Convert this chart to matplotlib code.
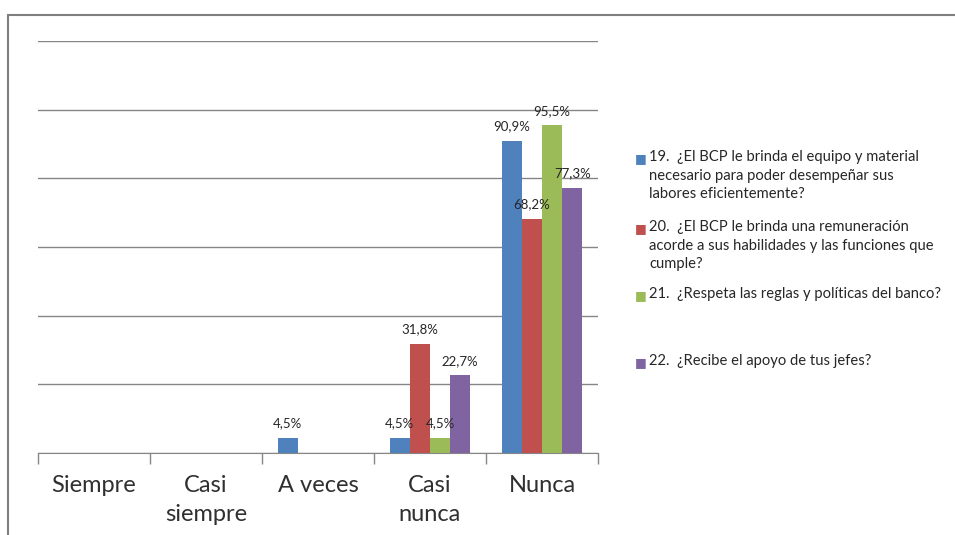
import matplotlib
matplotlib.use('Agg')
import matplotlib.pyplot as plt
from matplotlib.patches import Rectangle
import numpy as np

plt.rcParams['font.family'] = ['Lato', 'DejaVu Sans']

categories = ['Siempre', 'Casi\nsiempre', 'A veces', 'Casi\nnunca', 'Nunca']
series_names = [
    '19.  ¿El BCP le brinda el equipo y material\nnecesario para poder desempeñar sus\nlabores eficientemente?',
    '20.  ¿El BCP le brinda una remuneración\nacorde a sus habilidades y las funciones que\ncumple?',
    '21.  ¿Respeta las reglas y políticas del banco?',
    '22.  ¿Recibe el apoyo de tus jefes?',
]
q19 = [0, 0, 4.5, 4.5, 90.9]
q20 = [0, 0, 0, 31.8, 68.2]
q21 = [0, 0, 0, 4.5, 95.5]
q22 = [0, 0, 0, 22.7, 77.3]
colors = ['#4F81BD', '#C0504D', '#9BBB59', '#8064A2']

fig = plt.figure(figsize=(9.55, 5.35), dpi=100)
ax = fig.add_axes([38 / 955, 1 - 453 / 535, 560 / 955, 412 / 535])

x = np.arange(len(categories))
w = 0.18
for i, (vals, c) in enumerate(zip([q19, q20, q21, q22], colors)):
    bars = ax.bar(x + (i - 1.5) * w, vals, width=w, color=c, zorder=3)
    for b, v in zip(bars, vals):
        if v > 0:
            ax.annotate('{:.1f}%'.format(v).replace('.', ','),
                        xy=(b.get_x() + b.get_width() / 2, v), xytext=(0, 6),
                        textcoords='offset points', ha='center', va='bottom',
                        fontsize=9.5, color='#262626', zorder=4)

ax.set_xlim(-0.5, 4.5)
ax.set_ylim(0, 120)
ax.set_yticks(np.arange(0, 121, 20))
ax.yaxis.grid(True, color='#868686', linewidth=1)
ax.tick_params(axis='y', length=0, labelleft=False)
ax.set_xticks(x)
ax.set_xticklabels(categories, fontsize=17, color='#303030', linespacing=1.45)
ax.set_xticks(np.arange(-0.5, 5, 1), minor=True)
ax.tick_params(axis='x', which='major', length=0, pad=16)
ax.tick_params(axis='x', which='minor', length=8, color='#868686', width=1)
for s in ['top', 'right', 'left']:
    ax.spines[s].set_visible(False)
ax.spines['bottom'].set_color('#868686')

# legend, entries evenly spaced like the original
leg_y = [158, 228, 295, 362]
for name, c, yy in zip(series_names, colors, leg_y):
    fig.text(635 / 955, 1 - yy / 535, '■', color=c, fontsize=9, va='center', ha='left')
    fig.text(649 / 955, 1 - (yy - 8) / 535, name, fontsize=10.6, color='#262626',
             va='top', ha='left', linespacing=1.42)

# outer chart frame
fig.patches.append(Rectangle((8 / 955, -0.1), 1.1, 1 - 15 / 535 + 0.1,
                             transform=fig.transFigure, fill=False,
                             edgecolor='#7f7f7f', linewidth=1.5))

fig.savefig('out.png', dpi=100)
